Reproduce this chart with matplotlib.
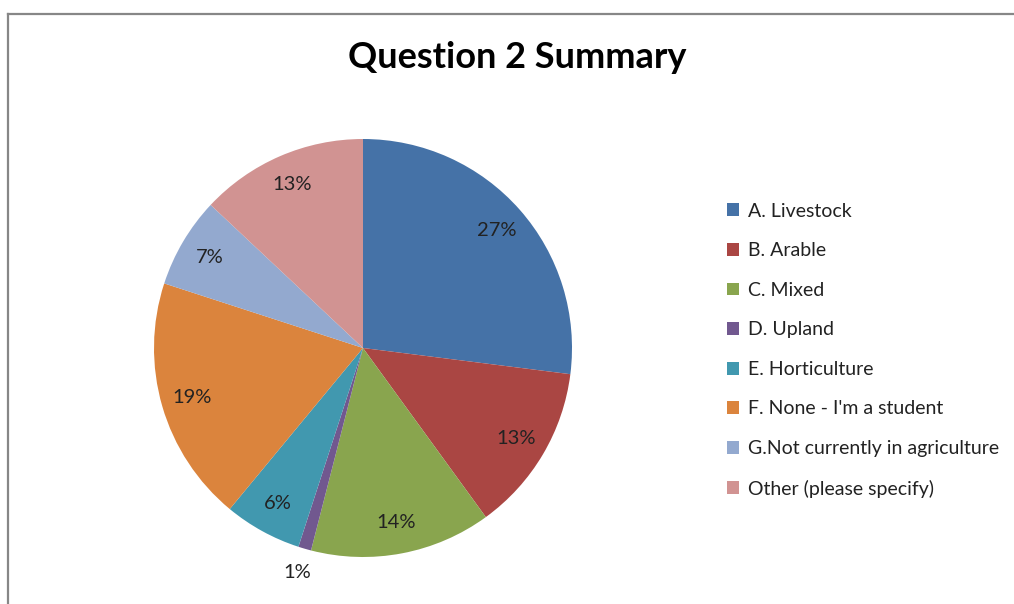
import matplotlib
matplotlib.use("Agg")
import matplotlib.pyplot as plt
from matplotlib.lines import Line2D
from matplotlib.patches import Patch

plt.rcParams["font.family"] = ["Lato", "DejaVu Sans"]

# Survey answers (percent of respondents)
categories = [
    "A. Livestock",
    "B. Arable",
    "C. Mixed",
    "D. Upland",
    "E. Horticulture",
    "F. None - I'm a student",
    "G.Not currently in agriculture",
    "Other (please specify)",
]
shares = [27, 13, 14, 1, 6, 19, 7, 13]
colors = ["#4572A7", "#AA4643", "#89A54E", "#71588F",
          "#4198AF", "#DB843D", "#93A9CF", "#D19392"]

W, H = 1014, 604
fig = plt.figure(figsize=(W / 100, H / 100), dpi=100)
fig.patch.set_facecolor("white")

# chart-area frame (top and left edges)
fig.add_artist(Line2D([8 / W, 1], [1 - 14 / H] * 2, color="#878787", lw=1.6))
fig.add_artist(Line2D([8 / W] * 2, [0, 1 - 14 / H], color="#878787", lw=1.6))

fig.text(517 / W, 1 - 57 / H, "Question 2 Summary", ha="center", va="center",
         fontsize=26, fontweight="bold", color="black")

# pie centred at (363, 348) px, radius ~209 px
cx, cy, r = 363, 348, 209
ax = fig.add_axes([(cx - r) / W, (H - cy - r) / H, 2 * r / W, 2 * r / H])
wedges, texts = ax.pie(
    shares, colors=colors, startangle=90, counterclock=False,
    labels=[f"{v}%" for v in shares], labeldistance=0.85,
    wedgeprops=dict(linewidth=0),
    textprops=dict(fontsize=14.5, color="#222222", ha="center", va="center"),
)
# the tiny slice gets its label outside the pie
for t, v in zip(texts, shares):
    if v < 3:
        x, y = t.get_position()
        t.set_position((x * 1.12 / 0.85, y * 1.12 / 0.85))
ax.set_xlim(-1, 1)
ax.set_ylim(-1, 1)
ax.axis("off")

handles = [Patch(facecolor=c, edgecolor="none") for c in colors]
fig.legend(handles, categories, loc="upper left",
           bbox_to_anchor=(717 / W, 1 - 193 / H), frameon=False,
           fontsize=14, handlelength=0.65, handleheight=0.65,
           handletextpad=0.45, labelspacing=1.16, borderpad=0,
           labelcolor="#222222")

fig.savefig("out.png", dpi=100, facecolor="white")
